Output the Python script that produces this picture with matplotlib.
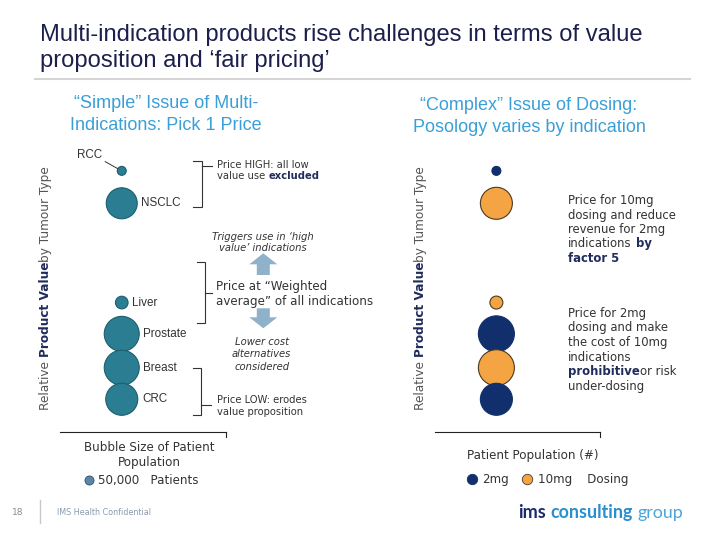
import matplotlib
matplotlib.use("Agg")
import matplotlib.pyplot as plt
from matplotlib.lines import Line2D
from matplotlib.patches import FancyArrow
import numpy as np

# ---------------- data ----------------
tumour_types = ["RCC", "NSCLC", "Liver", "Prostate", "Breast", "CRC"]
tumour_value = [9.26, 8.11, 4.59, 3.48, 2.28, 1.16]      # relative product value
tumour_patients_k = [10, 120, 20, 153, 153, 128]         # patient population (thousands)

dose_value = [9.26, 8.11, 4.59, 3.48, 2.28, 1.16]
dose_patients_k = [10, 128, 21, 162, 162, 128]
dose_group = ["2mg", "10mg", "10mg", "2mg", "10mg", "2mg"]

dose_levels = ["2mg", "10mg"]
legend_patients = "50,000"

# ---------------- style ----------------
W, H = 720, 540
TEAL, TEAL_EDGE = "#2b7e92", "#1d5d6e"
NAVY = "#112f6d"
ORANGE, ORANGE_EDGE = "#f4a442", "#4a3a22"
DOSE_FACE = {"2mg": NAVY, "10mg": ORANGE}
DOSE_EDGE = {"2mg": NAVY, "10mg": ORANGE_EDGE}
TXT = "#333333"
BOLDNAVY = "#1f2c5c"
SIZE_SCALE = 4.15   # points^2 per thousand patients
BX = 0.372          # bubble column position within each panel

fig = plt.figure(figsize=(7.2, 5.4), dpi=100)
fig.patch.set_facecolor("white")
ov = fig.add_axes([0, 0, 1, 1], zorder=0)
ov.set_xlim(0, W)
ov.set_ylim(H, 0)
ov.axis("off")
R = fig.canvas.get_renderer()


def panel(x0, x1, y_top=150, y_bot=432):
    ax = fig.add_axes([x0 / W, 1 - y_bot / H, (x1 - x0) / W, (y_bot - y_top) / H], zorder=1)
    ax.set_xlim(0, 1)
    ax.set_ylim(0, 10)
    ax.patch.set_alpha(0)
    for s in ["top", "right", "left"]:
        ax.spines[s].set_visible(False)
    ax.spines["bottom"].set_color("#222222")
    ax.spines["bottom"].set_linewidth(0.8)
    ax.set_xticks([])
    ax.set_yticks([])
    ax.plot([1, 1], [0, -0.018], transform=ax.transAxes, clip_on=False, color="#222222", lw=0.8)
    return ax


def tw(s, **kw):
    t = ov.text(0, 0, s, **kw)
    w = t.get_window_extent(R)
    t.remove()
    return w


def rich(x, yc, pieces, size, family="DejaVu Sans", color=TXT, ha="left"):
    """pieces: list of (text, overrides). yc is the visual centre line in px."""
    items = []
    total = 0
    for text, o in pieces:
        kw = dict(fontsize=size, family=o.get("family", family), color=o.get("color", color),
                  fontweight=o.get("weight", "normal"), fontstyle=o.get("style", "normal"))
        sp = tw("x x", **kw).width - tw("xx", **kw).width
        lead = len(text) - len(text.lstrip(" "))
        trail = len(text) - len(text.rstrip(" "))
        core = text.strip(" ")
        w = tw(core, **kw).width if core else 0
        items.append((core, kw, lead * sp, w, trail * sp))
        total += lead * sp + w + trail * sp
    cur = x - (total / 2 if ha == "center" else 0)
    yb = yc + 0.36 * size * 100 / 72
    for core, kw, l, w, t in items:
        cur += l
        if core:
            ov.text(cur, yb, core, ha="left", va="baseline", **kw)
        cur += w + t


def vrich(xb, y0, pieces, size, family="DejaVu Sans"):
    cur = y0
    for text, o in pieces:
        kw = dict(fontsize=size, family=family, color=o.get("color", TXT),
                  fontweight=o.get("weight", "normal"))
        t = ov.text(xb, cur, text, rotation=90, rotation_mode="anchor",
                    ha="left", va="baseline", **kw)
        cur -= t.get_window_extent(R).height


def bracket(xv, y0, y1, xh, yp, xp):
    ov.plot([xh, xv, xv, xh], [y0, y0, y1, y1], color="#333333", lw=0.8, solid_joinstyle="miter")
    ov.plot([xv, xp], [yp, yp], color="#333333", lw=0.8)


# ---------------- title ----------------
ov.text(40, 40.5, "Multi-indication products rise challenges in terms of value",
        family="Liberation Sans", fontsize=17.1, color="#1c1f4b", va="baseline")
ov.text(40, 67.5, "proposition and \u2018fair pricing\u2019",
        family="Liberation Sans", fontsize=17.1, color="#1c1f4b", va="baseline")
ov.plot([35, 690], [78.5, 78.5], color="#d4d4d4", lw=1.5)

SUB = dict(family="Liberation Sans", fontsize=13, color="#3a9fd8", ha="center", va="center")
ov.text(166, 104, "\u201cSimple\u201d Issue of Multi-", **SUB)
ov.text(166, 126, "Indications: Pick 1 Price", **SUB)
ov.text(529, 105, "\u201cComplex\u201d Issue of Dosing:", **SUB)
ov.text(529, 127, "Posology varies by indication", **SUB)

# ---------------- left panel ----------------
axL = panel(60, 226)
sL = SIZE_SCALE * np.array(tumour_patients_k)
axL.scatter(np.full(len(tumour_types), BX), tumour_value, s=sL, c=TEAL,
            edgecolors=TEAL_EDGE, linewidths=0.8, zorder=3)
for name, v, s in zip(tumour_types, tumour_value, sL):
    r_pt = np.sqrt(s) / 2
    if name == "RCC":
        axL.annotate(name, xy=(BX, v), xytext=(-23.5, 11.5), textcoords="offset points",
                     ha="center", va="center", family="Liberation Sans", fontsize=8.4, color=TXT,
                     arrowprops=dict(arrowstyle="-", color="#333333", lw=0.7,
                                     shrinkA=0.5, shrinkB=r_pt, relpos=(1, 0.1)))
    else:
        axL.annotate(name, xy=(BX, v), xytext=(r_pt + 3, 0), textcoords="offset points",
                     ha="left", va="center", family="Liberation Sans", fontsize=8.4, color=TXT)

legL = axL.legend([Line2D([], [], ls="none", marker="o", ms=6.5, mfc="#5b87a7", mec="#2d4d68", mew=0.6)],
                  [f"{legend_patients}   Patients"],
                  title="Bubble Size of Patient\nPopulation", loc="upper left",
                  bbox_to_anchor=(78 / W, 1 - 435 / H), bbox_transform=fig.transFigure,
                  frameon=False, prop=dict(family="DejaVu Sans", size=8.6),
                  title_fontproperties=dict(family="DejaVu Sans", size=8.6),
                  handlelength=0.8, handletextpad=0.4, borderpad=0, labelspacing=0.4,
                  alignment="left")
legL.get_title().set_multialignment("center")
legL.get_title().set_color(TXT)
for t in legL.get_texts():
    t.set_color(TXT)

# left annotations
bracket(201.7, 160.7, 206.7, 193, 166.3, 211.5)
bracket(205, 261.7, 323.3, 196.7, 293.3, 211.7)
bracket(201, 368.3, 414.5, 193.3, 405.3, 210.7)

rich(217.3, 164, [("Price HIGH: all low", {})], 7.2)
rich(217.3, 175.5, [("value use ", {}), ("excluded", {"weight": "bold", "color": BOLDNAVY})], 7.2)
rich(262.5, 236.7, [("Triggers use in \u2018high", {"style": "italic"})], 7.2, ha="center")
rich(262.5, 247.3, [("value\u2019 indications", {"style": "italic"})], 7.2, ha="center")
rich(216, 285.7, [("Price at \u201cWeighted", {})], 8.6)
rich(216, 300.7, [("average\u201d of all indications", {})], 8.6)
rich(261.7, 341.7, [("Lower cost", {"style": "italic"})], 7.2, ha="center")
rich(261.7, 353.3, [("alternatives", {"style": "italic"})], 7.2, ha="center")
rich(261.7, 366.7, [("considered", {"style": "italic"})], 7.2, ha="center")
rich(217.3, 399.3, [("Price LOW: erodes", {})], 7.2)
rich(217.3, 411.7, [("value proposition", {})], 7.2)

ARROW = "#8fb1ca"
ov.add_patch(FancyArrow(263.3, 275, 0, -21.7, width=13, head_width=28, head_length=11,
                        length_includes_head=True, color=ARROW, lw=0))
ov.add_patch(FancyArrow(263.3, 308.3, 0, 20, width=13, head_width=28, head_length=11,
                        length_includes_head=True, color=ARROW, lw=0))

YL = [("Relative ", {"color": "#555555"}),
      ("Product Value", {"color": BOLDNAVY, "weight": "bold"}),
      ("by Tumour Type", {"color": "#555555"})]
vrich(49, 410, YL, 8.7)
vrich(424, 410, YL, 8.7)

# ---------------- right panel ----------------
axR = panel(435, 600)
sR = SIZE_SCALE * np.array(dose_patients_k)
axR.scatter(np.full(len(dose_group), BX), dose_value, s=sR,
            c=[DOSE_FACE[g] for g in dose_group],
            edgecolors=[DOSE_EDGE[g] for g in dose_group], linewidths=0.8, zorder=3)

legR = axR.legend([Line2D([], [], ls="none", marker="o", ms=7.5, mfc=DOSE_FACE[g], mec=DOSE_EDGE[g], mew=0.6)
                   for g in dose_levels],
                  [dose_levels[0], dose_levels[1] + "    Dosing"],
                  title="Patient Population (#)", loc="upper left", ncol=2,
                  bbox_to_anchor=(461 / W, 1 - 443.5 / H), bbox_transform=fig.transFigure,
                  frameon=False, prop=dict(family="DejaVu Sans", size=8.6),
                  title_fontproperties=dict(family="DejaVu Sans", size=8.6),
                  handlelength=0.8, handletextpad=0.5, borderpad=0, labelspacing=0.9,
                  columnspacing=1.1, alignment="left")
legR.get_title().set_color(TXT)
for t in legR.get_texts():
    t.set_color(TXT)

BN = {"weight": "bold", "color": BOLDNAVY}
rich(568.3, 200, [("Price for 10mg", {})], 8.4)
rich(568.3, 214.3, [("dosing and reduce", {})], 8.4)
rich(568.3, 228.7, [("revenue for 2mg", {})], 8.4)
rich(568.3, 243, [("indications ", {}), ("by", BN)], 8.4)
rich(568.3, 257.3, [("factor 5", BN)], 8.4)

rich(568.3, 312.7, [("Price for 2mg", {})], 8.4)
rich(568.3, 327.3, [("dosing and make", {})], 8.4)
rich(568.3, 342, [("the cost of 10mg", {})], 8.4)
rich(568.3, 356.7, [("indications", {})], 8.4)
rich(568.3, 371, [("prohibitive", BN), ("or risk", {})], 8.4)
rich(568.3, 385.7, [("under-dosing", {})], 8.4)

# ---------------- footer ----------------
ov.text(18, 512.7, "18", family="DejaVu Sans", fontsize=6.5, color="#8a8a8a", ha="center", va="center")
ov.plot([40, 40], [500, 523], color="#c8c8c8", lw=1)
ov.text(56.7, 512.7, "IMS Health Confidential", family="DejaVu Sans", fontsize=5.8,
        color="#8a9bb0", va="center")
rich(518, 512, [("ims", {"family": "Lato", "weight": "bold", "color": "#1c2b6b"}),
                (" consulting", {"family": "Lato", "weight": "bold", "color": "#2a8fd0"}),
                (" group", {"family": "Lato", "color": "#4aa6dd"})], 12.9)

fig.savefig("out.png", dpi=100)
